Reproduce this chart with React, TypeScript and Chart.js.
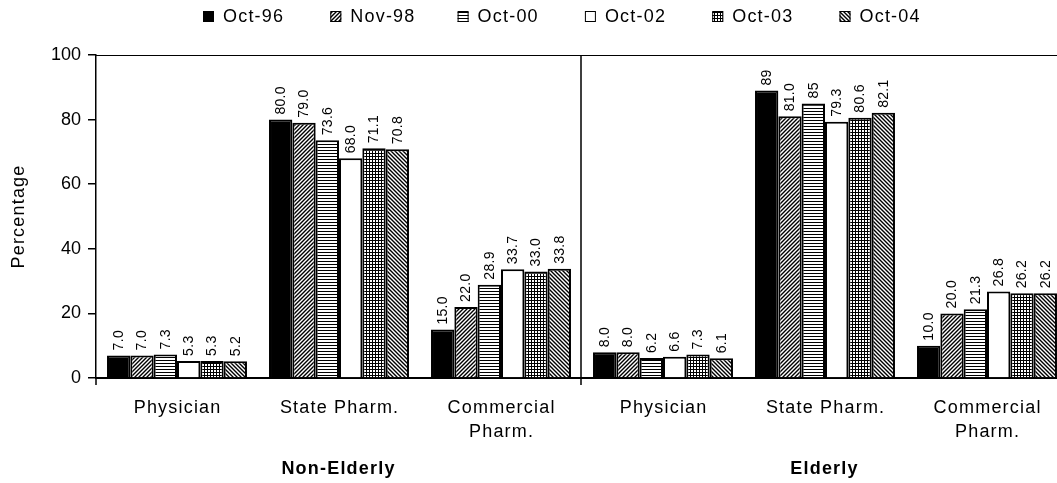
import React, { useEffect, useRef } from 'react';
import { Chart, registerables } from 'chart.js';

Chart.register(...registerables);

// ---- data ----
const categories: (string | string[])[] = [
  'Physician', 'State Pharm.', ['Commercial', 'Pharm.'],
  'Physician', 'State Pharm.', ['Commercial', 'Pharm.'],
];
const groups = ['Non-Elderly', 'Elderly'];
const seriesNames = ['Oct-96', 'Nov-98', 'Oct-00', 'Oct-02', 'Oct-03', 'Oct-04'];

const oct96 = [7.0, 80.0, 15.0, 8.0, 89, 10.0];
const nov98 = [7.0, 79.0, 22.0, 8.0, 81.0, 20.0];
const oct00 = [7.3, 73.6, 28.9, 6.2, 85, 21.3];
const oct02 = [5.3, 68.0, 33.7, 6.6, 79.3, 26.8];
const oct03 = [5.3, 71.1, 33.0, 7.3, 80.6, 26.2];
const oct04 = [5.2, 70.8, 33.8, 6.1, 82.1, 26.2];

const oct96Labels = ['7.0', '80.0', '15.0', '8.0', '89', '10.0'];
const nov98Labels = ['7.0', '79.0', '22.0', '8.0', '81.0', '20.0'];
const oct00Labels = ['7.3', '73.6', '28.9', '6.2', '85', '21.3'];
const oct02Labels = ['5.3', '68.0', '33.7', '6.6', '79.3', '26.8'];
const oct03Labels = ['5.3', '71.1', '33.0', '7.3', '80.6', '26.2'];
const oct04Labels = ['5.2', '70.8', '33.8', '6.1', '82.1', '26.2'];

const yTicks = [0, 20, 40, 60, 80, 100];
const yTitle = 'Percentage';

const FONT = '"Liberation Sans", Arial, Helvetica, sans-serif';

type Kind = 'solid' | 'fwd' | 'horiz' | 'none' | 'grid' | 'back';
const kinds: Kind[] = ['solid', 'fwd', 'horiz', 'none', 'grid', 'back'];

function makeFill(kind: Kind): string | CanvasPattern {
  if (kind === 'solid') return '#000';
  if (kind === 'none') return '#fff';
  const c = document.createElement('canvas');
  const g = c.getContext('2d')!;
  if (kind === 'fwd' || kind === 'back') {
    const s = 4;
    c.width = s; c.height = s;
    g.fillStyle = '#fff'; g.fillRect(0, 0, s, s);
    g.strokeStyle = '#000'; g.lineWidth = 1.4;
    g.beginPath();
    if (kind === 'fwd') {
      g.moveTo(0, s); g.lineTo(s, 0);
      g.moveTo(-1, 1); g.lineTo(1, -1);
      g.moveTo(s - 1, s + 1); g.lineTo(s + 1, s - 1);
    } else {
      g.moveTo(0, 0); g.lineTo(s, s);
      g.moveTo(-1, s - 1); g.lineTo(1, s + 1);
      g.moveTo(s - 1, -1); g.lineTo(s + 1, 1);
    }
    g.stroke();
  } else if (kind === 'horiz') {
    c.width = 4; c.height = 3;
    g.fillStyle = '#fff'; g.fillRect(0, 0, 4, 3);
    g.fillStyle = '#000'; g.fillRect(0, 0, 4, 1);
  } else if (kind === 'grid') {
    c.width = 3; c.height = 3;
    g.fillStyle = '#fff'; g.fillRect(0, 0, 3, 3);
    g.fillStyle = '#000'; g.fillRect(0, 0, 3, 1); g.fillRect(0, 0, 1, 3);
  }
  return g.createPattern(c, 'repeat')!;
}

const overlayPlugin = {
  id: 'overlay',
  afterDraw(chart: any) {
    const { ctx, chartArea, scales } = chart;
    const x = scales.x;
    const { left, right, top, bottom } = chartArea;
    ctx.save();
    ctx.fillStyle = '#000';
    ctx.strokeStyle = '#000';

    // top border of plot area
    ctx.lineWidth = 1;
    ctx.beginPath();
    ctx.moveTo(left, top + 0.5);
    ctx.lineTo(right, top + 0.5);
    ctx.moveTo(right - 0.5, top);
    ctx.lineTo(right - 0.5, bottom);
    ctx.stroke();

    // group divider and boundary ticks
    const mid = (x.getPixelForValue(2) + x.getPixelForValue(3)) / 2 - 1;
    ctx.lineWidth = 1.5;
    ctx.beginPath();
    ctx.moveTo(mid, top);
    ctx.lineTo(mid, bottom + 7);
    ctx.moveTo(left, bottom);
    ctx.lineTo(left, bottom + 7);
    ctx.moveTo(right, bottom);
    ctx.lineTo(right, bottom + 7);
    ctx.stroke();

    // data labels
    ctx.letterSpacing = '0.3px';
    ctx.font = `14px ${FONT}`;
    ctx.textAlign = 'left';
    ctx.textBaseline = 'middle';
    chart.data.datasets.forEach((ds: any, di: number) => {
      const meta = chart.getDatasetMeta(di);
      meta.data.forEach((bar: any, i: number) => {
        ctx.save();
        ctx.translate(bar.x + 0.5, bar.y - 5);
        ctx.rotate(-Math.PI / 2);
        ctx.fillText(ds.valueLabels[i], 0, 0);
        ctx.restore();
      });
    });

    // category labels
    ctx.letterSpacing = '1.2px';
    ctx.font = `18px ${FONT}`;
    ctx.textAlign = 'center';
    ctx.textBaseline = 'middle';
    categories.forEach((cat, i) => {
      const lines = Array.isArray(cat) ? cat : [cat];
      const cx = x.getPixelForValue(i);
      lines.forEach((ln, k) => {
        ctx.fillText(ln, cx + 0.6, bottom + 30 + k * 24);
      });
    });

    // group labels
    ctx.font = `bold 18px ${FONT}`;
    const g1 = (left + mid) / 2;
    const g2 = (mid + right) / 2;
    ctx.fillText(groups[0], g1, bottom + 91);
    ctx.fillText(groups[1], g2, bottom + 91);

    // y title
    ctx.font = `18px ${FONT}`;
    ctx.save();
    ctx.translate(19, (top + bottom) / 2);
    ctx.rotate(-Math.PI / 2);
    ctx.fillText(yTitle, 0, 0);
    ctx.restore();

    // legend
    ctx.textAlign = 'left';
    chart.data.datasets.forEach((ds: any, i: number) => {
      const bx = 203 + i * 127.3;
      ctx.fillStyle = ds.backgroundColor;
      ctx.fillRect(bx, 11, 11, 11);
      ctx.lineWidth = 1;
      ctx.strokeStyle = '#000';
      ctx.strokeRect(bx + 0.5, 11.5, 10, 10);
      ctx.fillStyle = '#000';
      ctx.fillText(ds.label, bx + 20, 17);
    });

    ctx.restore();
  },
};

export default function App() {
  const ref = useRef<HTMLCanvasElement | null>(null);

  useEffect(() => {
    if (!ref.current) return;
    const values = [oct96, nov98, oct00, oct02, oct03, oct04];
    const labels = [oct96Labels, nov98Labels, oct00Labels, oct02Labels, oct03Labels, oct04Labels];
    const datasets = seriesNames.map((name, i) => ({
      label: name,
      data: values[i],
      valueLabels: labels[i],
      backgroundColor: makeFill(kinds[i]),
      borderColor: '#000',
      borderWidth: 2,
      categoryPercentage: 0.864,
      barPercentage: 1.0,
    }));

    const chart = new Chart(ref.current, {
      type: 'bar',
      data: { labels: categories.map((c) => (Array.isArray(c) ? c.join(' ') : c)), datasets: datasets as any },
      options: {
        animation: false,
        responsive: false,
        devicePixelRatio: 1,
        layout: { padding: { left: 0, right: 12, top: 55, bottom: 105 } },
        plugins: {
          legend: { display: false },
          tooltip: { enabled: false },
        },
        scales: {
          x: {
            grid: { display: false },
            ticks: { display: false },
            border: { display: true, color: '#000', width: 2 },
            afterFit: (s: any) => { s.height = 0; },
          },
          y: {
            min: 0,
            max: 100,
            afterBuildTicks: (s: any) => { s.ticks = yTicks.map((v) => ({ value: v })); },
            afterFit: (s: any) => { s.width = 96; },
            grid: { drawOnChartArea: false, drawTicks: true, tickLength: 8, color: '#000', lineWidth: 1.5 },
            border: { display: true, color: '#000', width: 1.5 },
            ticks: {
              color: '#000',
              padding: 7,
              font: { family: FONT, size: 18 },
            },
          },
        },
      },
      plugins: [overlayPlugin],
    });
    return () => chart.destroy();
  }, []);

  return (
    <div style={{ position: 'absolute', left: 0, top: 0, width: 1057, height: 483, overflow: 'hidden', background: '#fff' }}>
      <canvas ref={ref} width={1080} height={483} style={{ display: 'block', width: 1080, height: 483 }} />
    </div>
  );
}
